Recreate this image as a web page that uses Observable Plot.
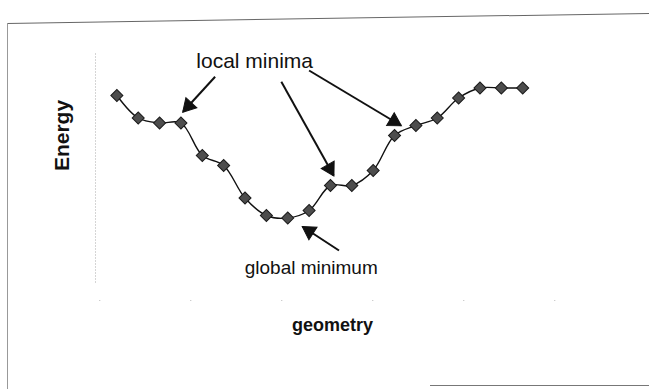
<!DOCTYPE html>
<html><head><meta charset="utf-8">
<script src="https://cdn.jsdelivr.net/npm/d3@7"></script>
<script src="https://cdn.jsdelivr.net/npm/@observablehq/plot@0.6"></script>
<style>
body{margin:0;background:#fff;}
#wrap{position:relative;width:649px;height:389px;overflow:hidden;background:#fff;}
#wrap svg{position:absolute;left:0;top:0;}
.topline{position:absolute;left:7px;top:19px;width:660px;border-top:1px solid #666;transform-origin:0 0;transform:rotate(-0.9deg) translateY(4px);}
.leftline{position:absolute;left:7px;top:23px;height:370px;border-left:1px solid #999;}
.bottom{position:absolute;left:430px;top:385px;width:240px;border-top:1px solid #777;}
</style></head><body>
<div id="wrap"><div class="topline"></div><div class="leftline"></div><div class="bottom"></div></div>
<script>
// geometry step (category index) and energy
const geometry = [1,2,3,4,5,6,7,8,9,10,11,12,13,14,15,16,17,18,19,20];
const energy   = [8.2,7.3,7.1,7.1,5.8,5.4,4.1,3.4,3.3,3.6,4.6,4.6,5.2,6.6,7.0,7.3,8.1,8.5,8.5,8.5];

// annotation texts
const noteLabels = ["local minima","global minimum"];
const noteX = [7.45, 10.1];
const noteY = [9.55, 1.3];
const noteSize = [21, 19];

// arrows (tail -> tip), in geometry/energy units
const arrowX1 = [5.6, 8.7, 10.0, 11.4];
const arrowY1 = [8.95, 8.75, 9.2, 2.0];
const arrowX2 = [4.1, 11.15, 14.3, 9.7];
const arrowY2 = [7.55, 5.0, 7.0, 2.95];

// axis titles
const xTitle = "geometry";
const yTitle = "Energy";

const points = geometry.map((g,i)=>({g, e: energy[i]}));
const notes = noteLabels.map((t,i)=>({t, x: noteX[i], y: noteY[i], s: noteSize[i]}));
const arrows = arrowX1.map((x1,i)=>({x1, y1: arrowY1[i], x2: arrowX2[i], y2: arrowY2[i]}));

function build(heads){
  const marks = [
    Plot.ruleX([0], {y1: 0.7, y2: 9.9, stroke: "#aaa", strokeDasharray: "1,2", strokeWidth: 1}),
    Plot.ruleY([0], {x1: 0.2, x2: 22, stroke: "#bbb", strokeDasharray: "1,90", strokeWidth: 1}),
    Plot.line(points, {x: "g", y: "e", curve: "catmull-rom", stroke: "#111", strokeWidth: 1.4}),
    Plot.dot(points, {x: "g", y: "e", symbol: "square", r: 4.8, rotate: 45, fill: "#4d4d4d", stroke: "#1a1a1a", strokeWidth: 1}),
    Plot.link(arrows, {x1: "x1", y1: "y1", x2: "x2", y2: "y2", stroke: "#111", strokeWidth: 2}),
    ...notes.map(n => Plot.text([n], {x: "x", y: "y", text: "t", fontSize: n.s, fill: "#111"})),
    Plot.text([xTitle], {x: 11.1, y: -1.0, text: d => d, fontSize: 18, fontWeight: "bold", fill: "#111"}),
    Plot.text([yTitle], {x: -1.55, y: 6.6, text: d => d, rotate: -90, fontSize: 21, fontWeight: "bold", fill: "#111"})
  ];
  if (heads) marks.push(Plot.dot(heads, {x: "x", y: "y", rotate: "a", symbol: "triangle", r: 5.5, fill: "#111", stroke: "#111", strokeWidth: 1}));
  return Plot.plot({
    width: 649, height: 389,
    marginLeft: 95, marginRight: 20, marginTop: 50, marginBottom: 89,
    x: {domain: [0, 25], axis: null},
    y: {domain: [0, 10], axis: null},
    style: {background: "transparent", fontFamily: "Liberation Sans, Arial, sans-serif", overflow: "visible"},
    marks
  });
}

const p0 = build(null);
const sx = p0.scale("x"), sy = p0.scale("y");
const heads = arrows.map(a => {
  const px1 = sx.apply(a.x1), py1 = sy.apply(a.y1), px2 = sx.apply(a.x2), py2 = sy.apply(a.y2);
  const dx = px2 - px1, dy = py2 - py1, L = Math.hypot(dx, dy);
  const cx = px2 - dx / L * 8, cy = py2 - dy / L * 8;
  return {x: sx.invert(cx), y: sy.invert(cy), a: Math.atan2(dx, -dy) * 180 / Math.PI};
});
document.getElementById("wrap").appendChild(build(heads));
</script>
</body></html>
